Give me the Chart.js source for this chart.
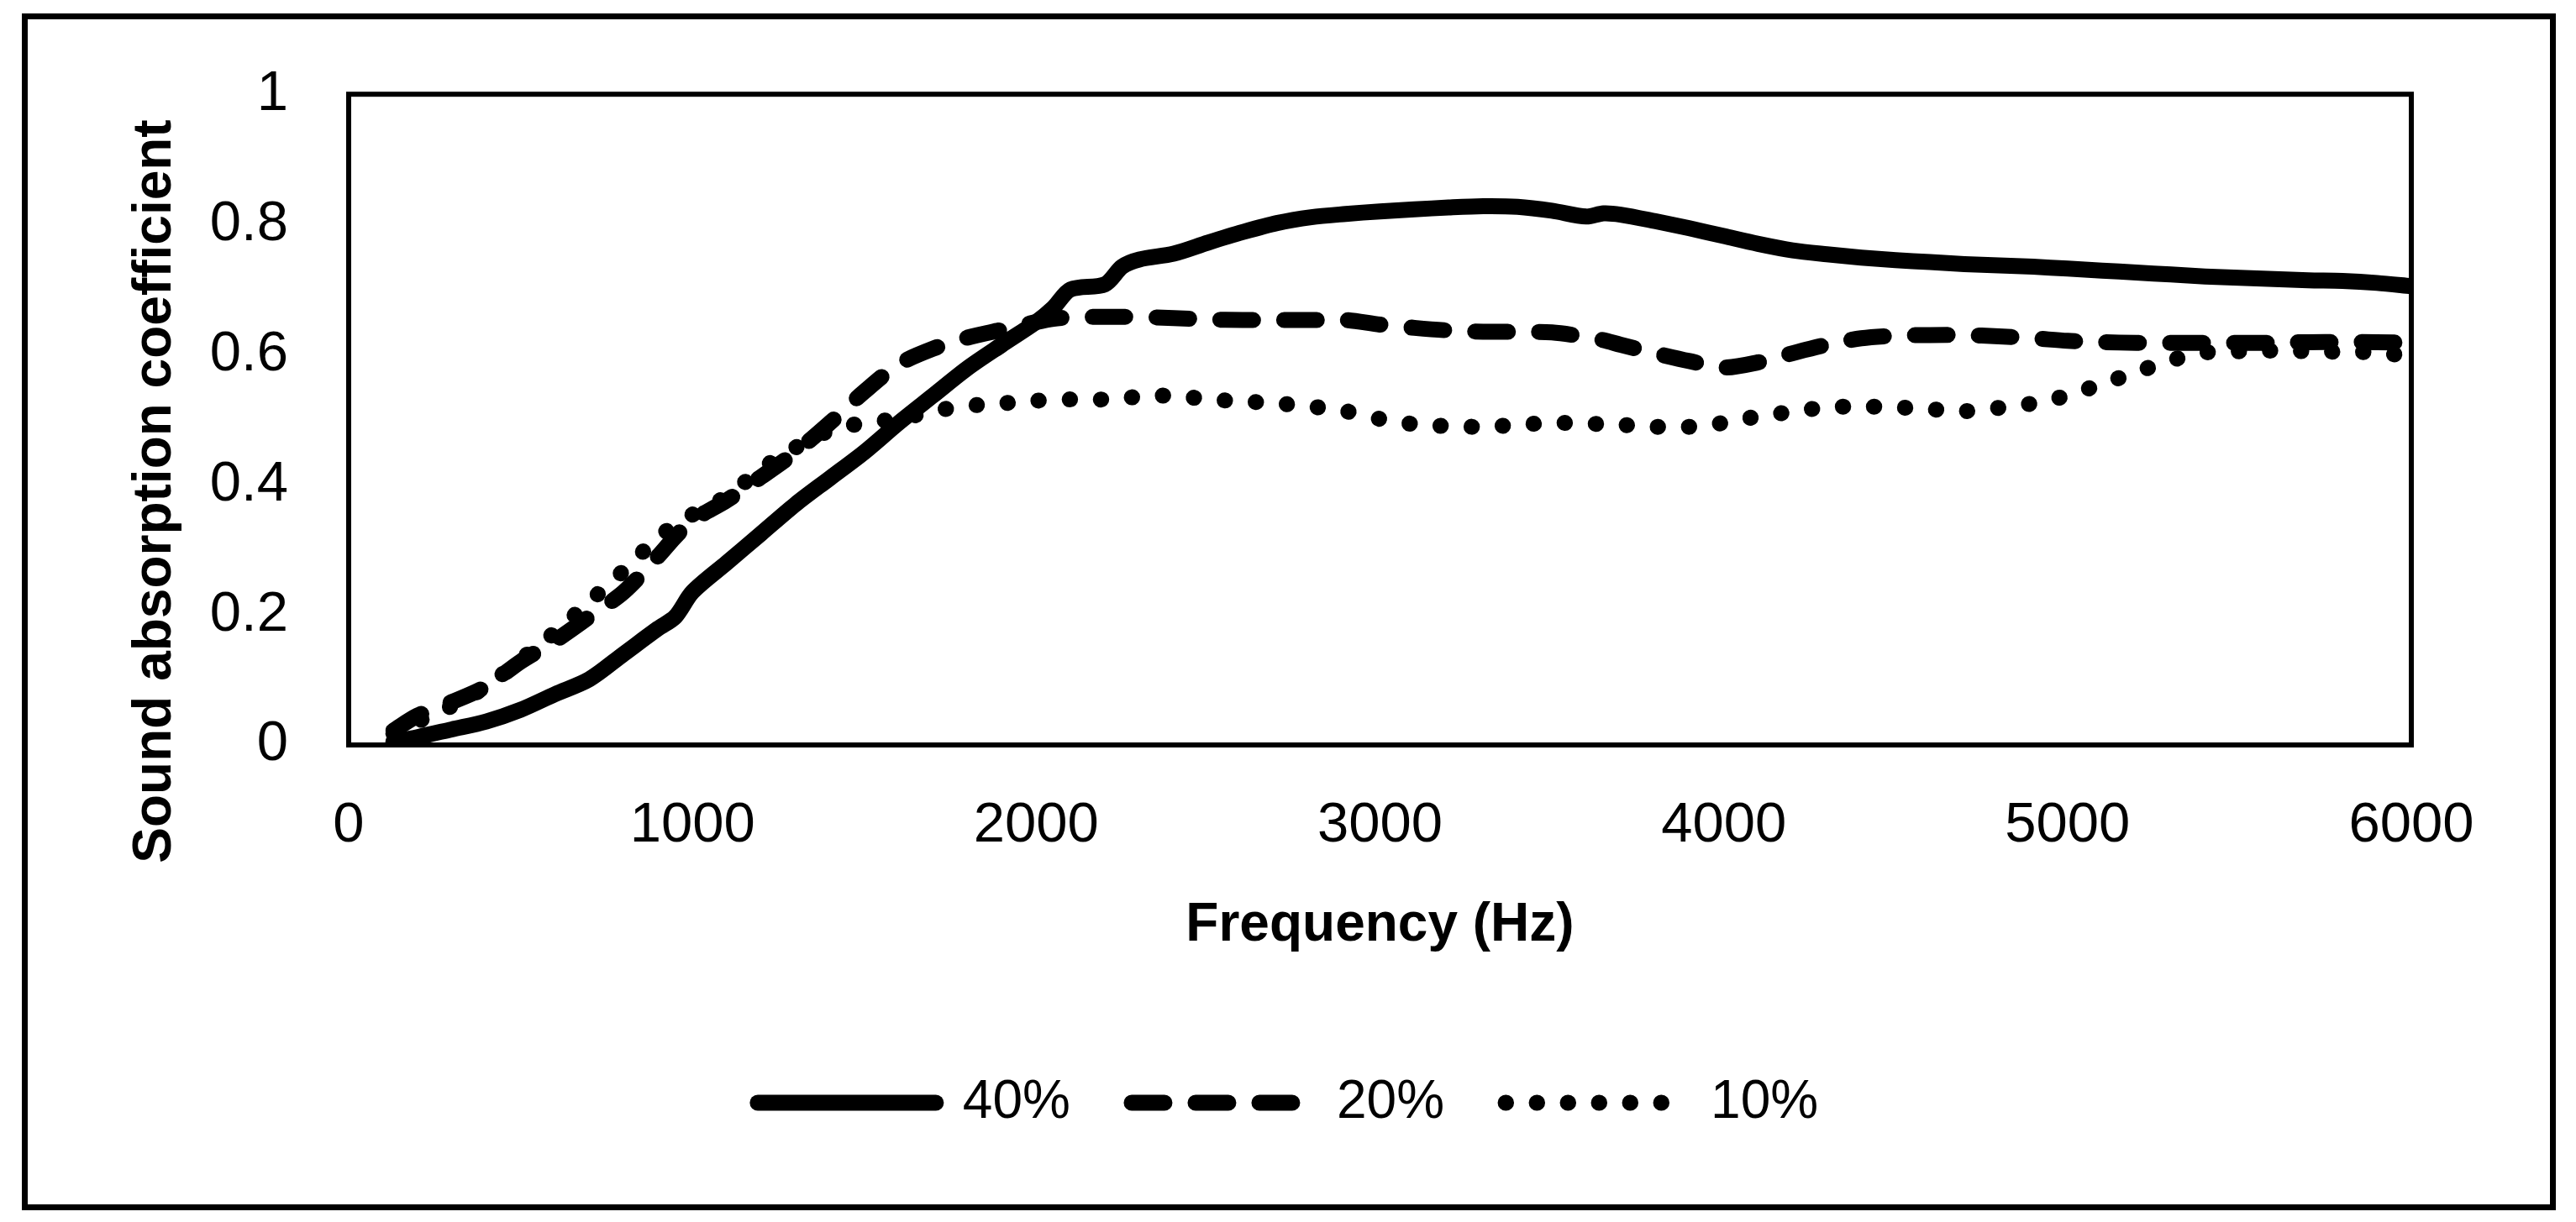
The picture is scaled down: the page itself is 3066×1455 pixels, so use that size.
<!DOCTYPE html>
<html>
<head>
<meta charset="utf-8">
<title>Sound absorption coefficient</title>
<script src="https://cdn.jsdelivr.net/npm/chart.js@4/dist/chart.umd.min.js"></script>
<style>
    html, body { margin: 0; padding: 0; background: #fff; }
    #absorptionChart { display: block; }
</style>
</head>
<body>
<canvas id="absorptionChart" width="3066" height="1455"></canvas>
<script>
// frequency grid (Hz), shared by the three curves
const freqHz = [130, 200, 300, 400, 500, 600, 700, 800, 900, 950, 1000, 1100, 1200, 1300, 1400, 1500, 1600, 1700, 1800, 1900,
    2000, 2050, 2100, 2200, 2250, 2300, 2400, 2500, 2600, 2700, 2800, 2900, 3000, 3100, 3200, 3300, 3400, 3500, 3600, 3650,
    3700, 3800, 3900, 4000, 4100, 4200, 4300, 4400, 4500, 4600, 4700, 4800, 4900, 5000, 5100, 5200, 5300, 5400, 5500, 5600,
    5700, 5800, 5900, 6000];

const alpha40 = [0.005, 0.012, 0.024, 0.036, 0.054, 0.078, 0.101, 0.14, 0.179, 0.197, 0.235, 0.28, 0.325, 0.37, 0.41, 0.45, 0.495, 0.537, 0.579, 0.615,
    0.65, 0.672, 0.70, 0.708, 0.735, 0.746, 0.755, 0.772, 0.788, 0.802, 0.811, 0.816, 0.82, 0.823, 0.826, 0.828, 0.827, 0.821, 0.812, 0.817,
    0.815, 0.805, 0.794, 0.782, 0.77, 0.76, 0.754, 0.749, 0.745, 0.742, 0.739, 0.737, 0.735, 0.732, 0.729, 0.726, 0.723, 0.72, 0.718, 0.716,
    0.714, 0.713, 0.71, 0.705];

const alpha20 = [0.022, 0.045, 0.066, 0.09, 0.128, 0.16, 0.197, 0.235, 0.29, 0.32, 0.345, 0.376, 0.412, 0.45, 0.495, 0.543, 0.585, 0.609, 0.626, 0.638,
    0.65, 0.655, 0.657, 0.658, 0.658, 0.658, 0.656, 0.654, 0.653, 0.653, 0.653, 0.653, 0.646, 0.641, 0.637, 0.635, 0.635, 0.634, 0.627, 0.622,
    0.615, 0.602, 0.59, 0.58, 0.588, 0.602, 0.615, 0.625, 0.629, 0.63, 0.63, 0.628, 0.625, 0.621, 0.619, 0.618, 0.618, 0.618, 0.618, 0.618,
    0.619, 0.619, 0.619, 0.618];

const alpha10 = [0.018, 0.036, 0.06, 0.09, 0.131, 0.173, 0.22, 0.268, 0.319, 0.338, 0.354, 0.382, 0.424, 0.457, 0.483, 0.495, 0.501, 0.513, 0.521, 0.525,
    0.529, 0.53, 0.531, 0.531, 0.533, 0.535, 0.537, 0.531, 0.528, 0.525, 0.52, 0.513, 0.501, 0.493, 0.49, 0.489, 0.492, 0.495, 0.494, 0.493,
    0.492, 0.489, 0.489, 0.495, 0.505, 0.512, 0.519, 0.52, 0.519, 0.516, 0.513, 0.518, 0.525, 0.537, 0.555, 0.573, 0.591, 0.603, 0.605, 0.606,
    0.605, 0.604, 0.603, 0.597];

const seriesLabels = ['40%', '20%', '10%'];
const xTicks = [0, 1000, 2000, 3000, 4000, 5000, 6000];
const yTicks = [0, 0.2, 0.4, 0.6, 0.8, 1];

const FONT = '"Liberation Sans", Arial, sans-serif';

function toPoints(values) {
    return freqHz.map((f, i) => ({ x: f, y: values[i] }));
}

function lineSet(label, values, dash) {
    return {
        label: label,
        data: toPoints(values),
        borderColor: '#000',
        backgroundColor: '#000',
        borderWidth: 19,
        borderDash: dash,
        borderCapStyle: 'round',
        borderJoinStyle: 'round',
        pointRadius: 0,
        tension: 0.3,
        fill: false
    };
}

// outer frame, plot border and the rotated y title
const framePlugin = {
    id: 'frame',
    beforeDraw(chart) {
        const c = chart.ctx;
        c.save();
        c.fillStyle = '#fff';
        c.fillRect(0, 0, chart.width, chart.height);
        c.strokeStyle = '#000';
        c.lineWidth = 7;
        c.strokeRect(29.5, 19.5, 3009, 1418);
        c.restore();
    },
    beforeDatasetsDraw(chart) {
        const a = chart.chartArea;
        const c = chart.ctx;
        c.save();
        c.strokeStyle = '#000';
        c.lineWidth = 6;
        c.strokeRect(a.left, a.top, a.right - a.left, a.bottom - a.top);
        c.restore();
    },
    afterDraw(chart) {
        const c = chart.ctx;
        c.save();
        c.translate(185, 585);
        c.rotate(-Math.PI / 2);
        c.font = 'bold 64px ' + FONT;
        c.fillStyle = '#000';
        c.textAlign = 'center';
        c.textBaseline = 'middle';
        c.fillText('Sound absorption coefficient', 0, 0);
        c.restore();
    }
};

const ctx = document.getElementById('absorptionChart').getContext('2d');
new Chart(ctx, {
    type: 'line',
    data: {
        datasets: [
            lineSet(seriesLabels[0], alpha40, []),
            lineSet(seriesLabels[1], alpha20, [39, 37]),
            lineSet(seriesLabels[2], alpha10, [0.5, 36.5])
        ]
    },
    options: {
        responsive: false,
        devicePixelRatio: 1,
        animation: false,
        layout: { padding: { top: 111, left: 0, right: 0, bottom: 100 } },
        plugins: {
            tooltip: { enabled: false },
            legend: {
                position: 'bottom',
                labels: {
                    usePointStyle: true,
                    pointStyle: 'line',
                    pointStyleWidth: 212,
                    boxHeight: 19,
                    padding: 73,
                    color: '#000',
                    font: { family: FONT, size: 64 },
                    // keep each dataset's dash pattern in its legend sample
                    generateLabels: chart => {
                        const items = Chart.defaults.plugins.legend.labels.generateLabels(chart);
                        return items.map(item => {
                            const ds = chart.data.datasets[item.datasetIndex];
                            item.lineDash = ds.borderDash;
                            item.lineCap = ds.borderCapStyle;
                            item.lineWidth = ds.borderWidth;
                            item.strokeStyle = ds.borderColor;
                            return item;
                        });
                    }
                }
            }
        },
        scales: {
            x: {
                type: 'linear',
                min: 0,
                max: 6000,
                afterBuildTicks: s => { s.ticks = xTicks.map(v => ({ value: v })); },
                afterFit: s => { s.height = 321; },
                grid: { display: false, drawTicks: false },
                border: { display: false },
                ticks: {
                    padding: 56,
                    color: '#000',
                    font: { family: FONT, size: 67 },
                    callback: v => String(v)
                },
                title: {
                    display: true,
                    text: 'Frequency (Hz)',
                    color: '#000',
                    font: { family: FONT, size: 64, weight: 'bold' },
                    padding: { top: 0, bottom: 67 }
                }
            },
            y: {
                min: 0,
                max: 1,
                afterBuildTicks: s => { s.ticks = yTicks.map(v => ({ value: v })); },
                afterFit: s => { s.width = 415; },
                grid: { display: false, drawTicks: false },
                border: { display: false },
                ticks: {
                    padding: 72,
                    color: '#000',
                    font: { family: FONT, size: 67 },
                    callback: v => String(Number(v.toFixed(1)))
                }
            },
            yRight: {
                type: 'linear',
                position: 'right',
                display: true,
                afterFit: s => { s.width = 196; },
                grid: { display: false, drawTicks: false },
                border: { display: false },
                ticks: { display: false }
            }
        }
    },
    plugins: [framePlugin]
});
</script>
</body>
</html>
